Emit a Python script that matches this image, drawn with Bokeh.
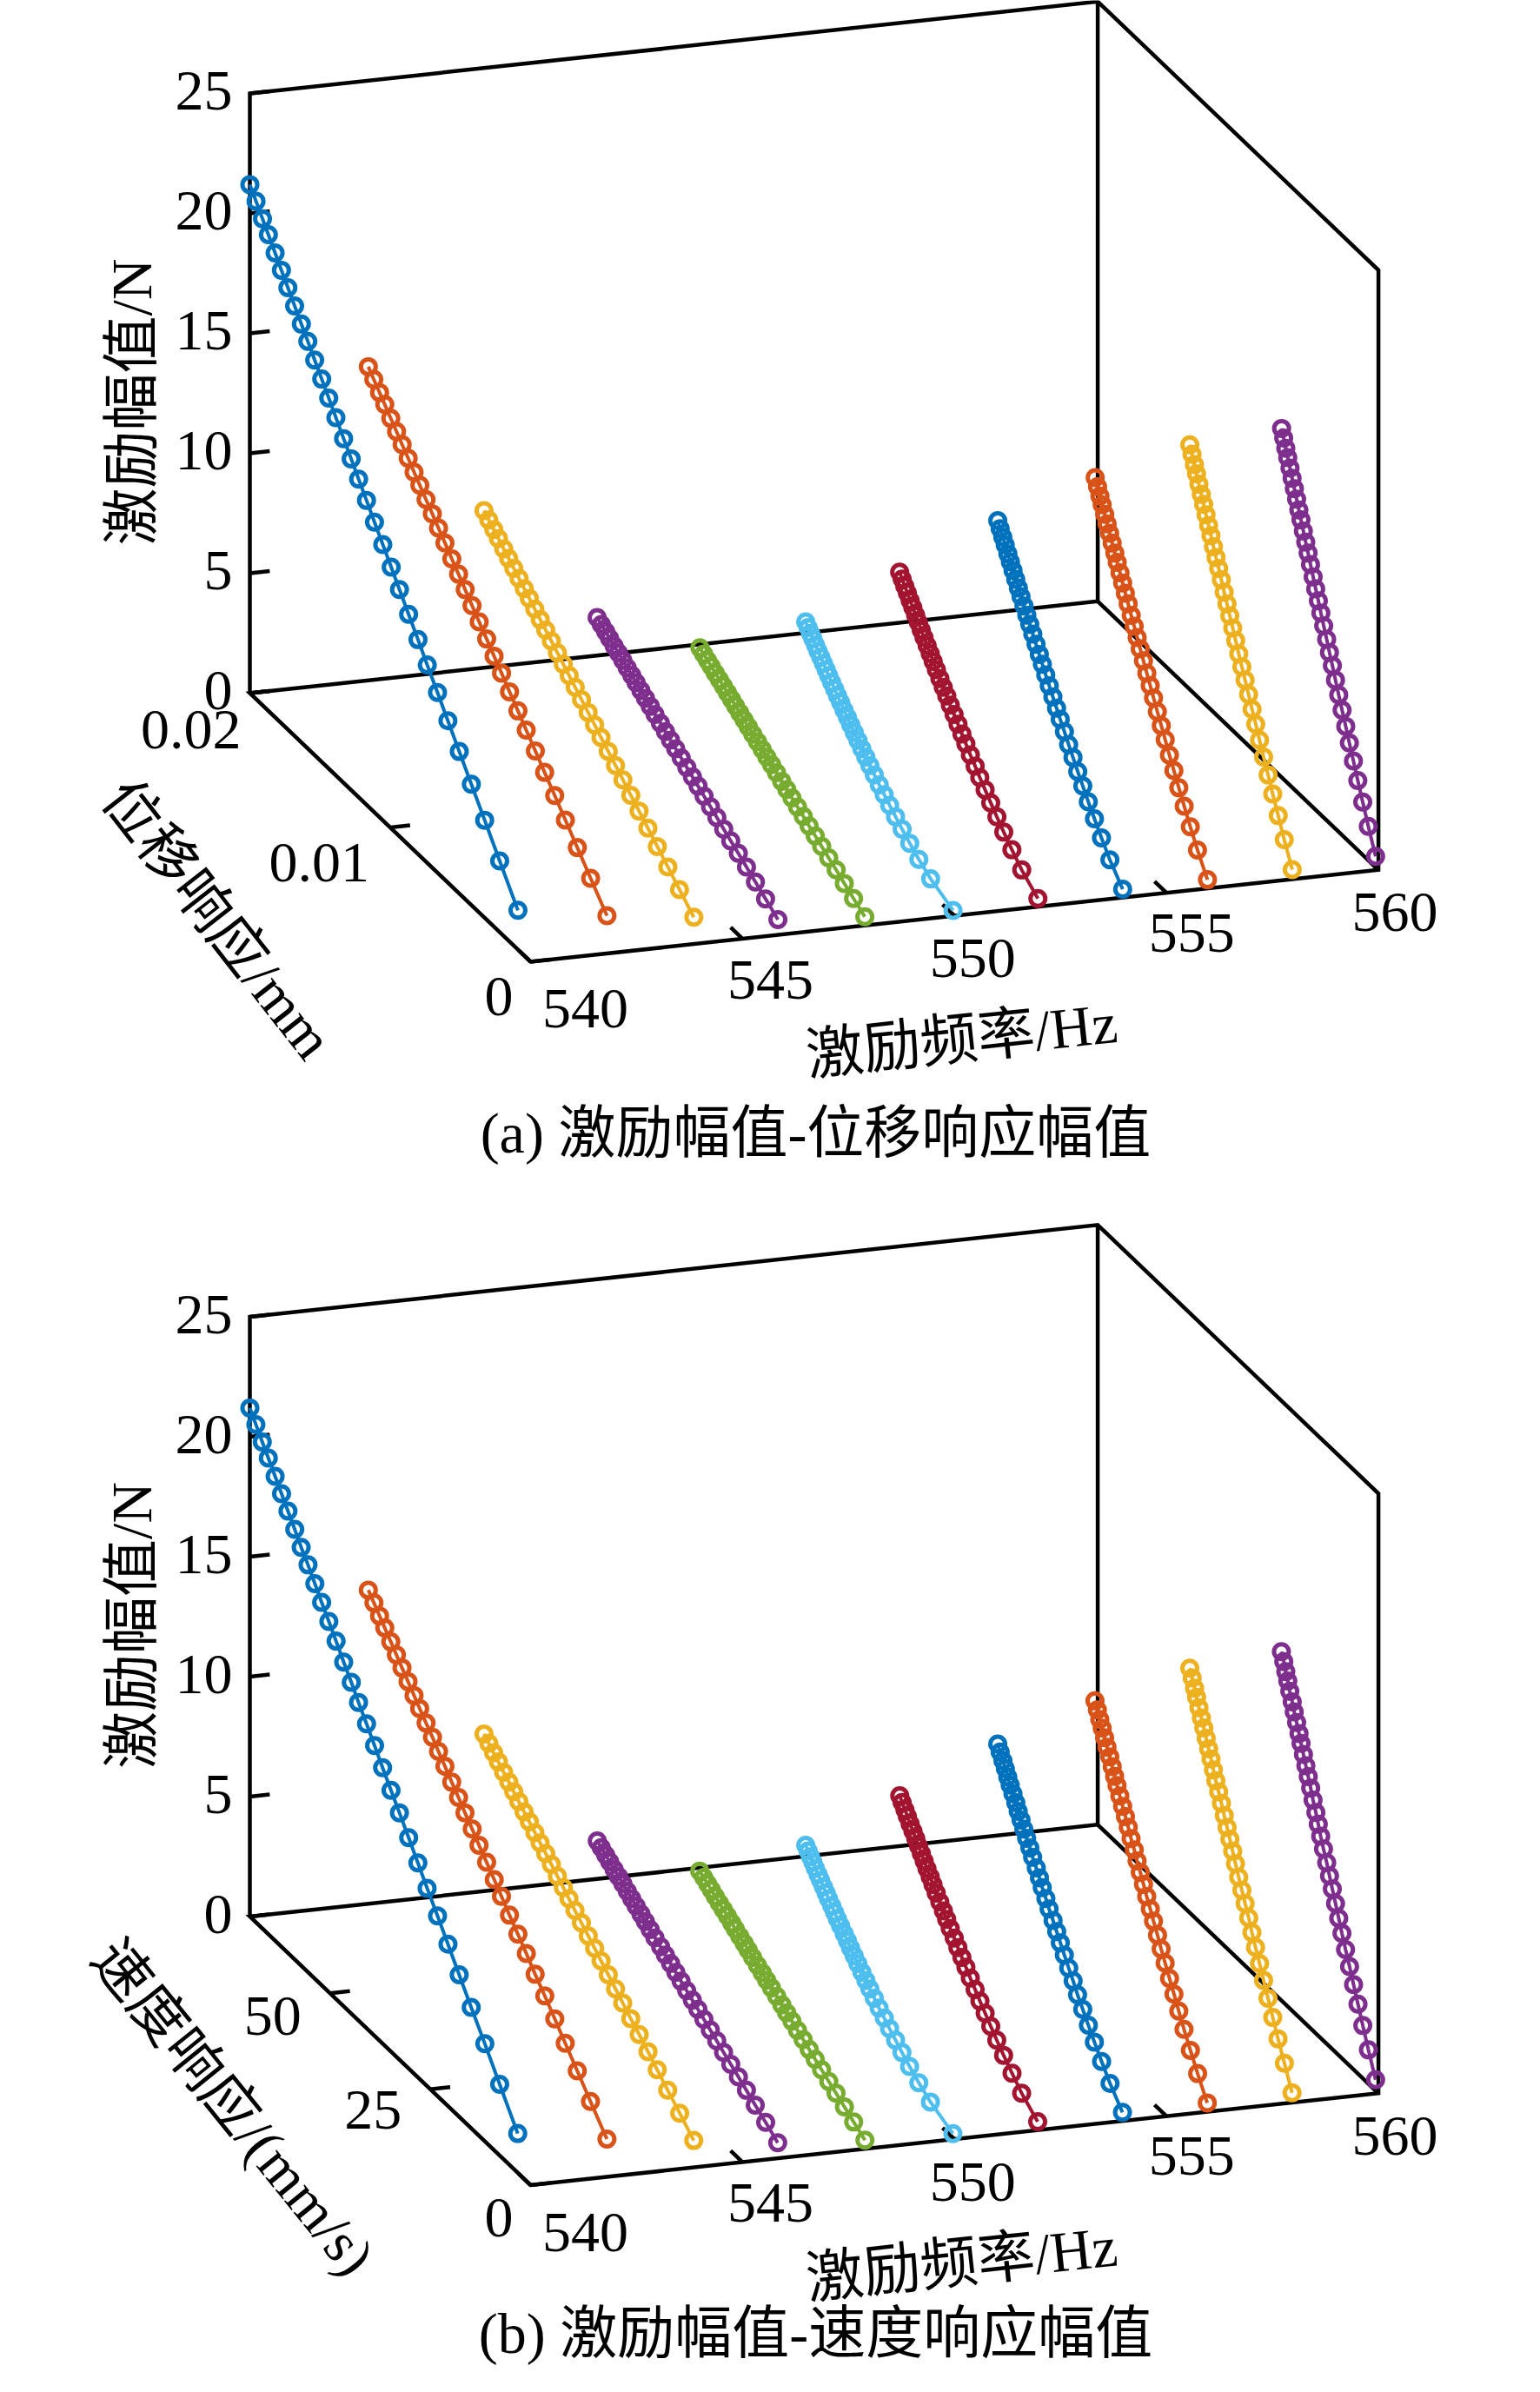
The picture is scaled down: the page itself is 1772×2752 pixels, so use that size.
import numpy as np
from bokeh.plotting import figure
from bokeh.models import Range1d
from bokeh.core.properties import value
from bokeh.embed import file_html
from bokeh.resources import INLINE

# excitation frequencies (Hz), one curve each
freqs = [540, 542, 544, 546, 548, 550, 552, 554, 556, 558, 560]

# force amplitude (N), displacement amplitude (mm), velocity amplitude (mm/s)
F540 = [21.20, 20.75, 20.28, 19.85, 19.36, 18.89, 18.42, 17.93, 17.44, 16.98, 16.47, 15.96, 15.45, 14.92, 14.35, 13.81,
        13.26, 12.69, 12.10, 11.50, 10.89, 10.29, 9.62, 8.94, 8.25, 7.51, 6.75, 5.92, 5.04, 4.07, 2.97, 1.64]
D540 = [0.02000, 0.01956, 0.01910, 0.01868, 0.01820, 0.01775, 0.01729, 0.01681, 0.01633, 0.01587, 0.01538, 0.01488,
        0.01438, 0.01387, 0.01332, 0.01278, 0.01225, 0.01169, 0.01112, 0.01053, 0.00993, 0.00934, 0.00869, 0.00802,
        0.00736, 0.00663, 0.00589, 0.00508, 0.00422, 0.00327, 0.00220, 0.00090]
V540 = [70.0, 68.5, 66.9, 65.4, 63.7, 62.1, 60.5, 58.8, 57.2, 55.5, 53.8, 52.1, 50.3, 48.5, 46.6, 44.7,
        42.9, 40.9, 38.9, 36.9, 34.8, 32.7, 30.4, 28.1, 25.8, 23.2, 20.6, 17.8, 14.8, 11.4, 7.7, 3.2]

F542 = [14.57, 14.26, 13.94, 13.65, 13.31, 12.99, 12.67, 12.34, 12.00, 11.68, 11.33, 10.99, 10.64, 10.28, 9.89, 9.52,
        9.14, 8.75, 8.35, 7.94, 7.52, 7.11, 6.65, 6.19, 5.72, 5.21, 4.69, 4.13, 3.53, 2.86, 2.11, 1.20]
D542 = [0.01760, 0.01721, 0.01680, 0.01643, 0.01600, 0.01559, 0.01519, 0.01476, 0.01434, 0.01393, 0.01349, 0.01304,
        0.01260, 0.01214, 0.01165, 0.01117, 0.01070, 0.01021, 0.00970, 0.00917, 0.00864, 0.00811, 0.00754, 0.00694,
        0.00635, 0.00570, 0.00504, 0.00432, 0.00356, 0.00271, 0.00176, 0.00060]
V542 = [61.6, 60.2, 58.8, 57.5, 56.0, 54.6, 53.2, 51.7, 50.2, 48.8, 47.2, 45.6, 44.1, 42.5, 40.8, 39.1,
        37.5, 35.7, 34.0, 32.1, 30.2, 28.4, 26.4, 24.3, 22.2, 20.0, 17.6, 15.1, 12.5, 9.5, 6.2, 2.1]

F544 = [9.42, 9.22, 9.02, 8.83, 8.61, 8.41, 8.20, 7.99, 7.77, 7.57, 7.34, 7.12, 6.90, 6.67, 6.42, 6.18,
        5.94, 5.69, 5.43, 5.16, 4.90, 4.63, 4.34, 4.04, 3.74, 3.41, 3.08, 2.72, 2.33, 1.90, 1.42, 0.84]
D544 = [0.01540, 0.01506, 0.01470, 0.01437, 0.01399, 0.01364, 0.01328, 0.01290, 0.01253, 0.01217, 0.01178, 0.01139,
        0.01100, 0.01060, 0.01017, 0.00975, 0.00933, 0.00890, 0.00845, 0.00798, 0.00752, 0.00706, 0.00655, 0.00603,
        0.00550, 0.00494, 0.00435, 0.00372, 0.00305, 0.00230, 0.00147, 0.00045]
V544 = [53.9, 52.7, 51.5, 50.3, 49.0, 47.7, 46.5, 45.2, 43.9, 42.6, 41.2, 39.9, 38.5, 37.1, 35.6, 34.1,
        32.7, 31.2, 29.6, 27.9, 26.3, 24.7, 22.9, 21.1, 19.3, 17.3, 15.2, 13.0, 10.7, 8.1, 5.1, 1.6]

F546 = [5.71, 5.59, 5.46, 5.34, 5.20, 5.08, 4.95, 4.81, 4.68, 4.55, 4.41, 4.27, 4.13, 3.98, 3.83, 3.68,
        3.53, 3.37, 3.21, 3.04, 2.87, 2.71, 2.53, 2.34, 2.15, 1.94, 1.73, 1.51, 1.27, 1.00, 0.70, 0.33]
D546 = [0.01338, 0.01308, 0.01277, 0.01249, 0.01217, 0.01186, 0.01155, 0.01123, 0.01091, 0.01060, 0.01026, 0.00993,
        0.00959, 0.00925, 0.00887, 0.00851, 0.00815, 0.00778, 0.00739, 0.00699, 0.00659, 0.00619, 0.00576, 0.00530,
        0.00485, 0.00436, 0.00386, 0.00332, 0.00274, 0.00210, 0.00138, 0.00050]
V546 = [46.8, 45.8, 44.7, 43.7, 42.6, 41.5, 40.4, 39.3, 38.2, 37.1, 35.9, 34.8, 33.6, 32.4, 31.0, 29.8,
        28.5, 27.2, 25.9, 24.5, 23.1, 21.7, 20.2, 18.6, 17.0, 15.3, 13.5, 11.6, 9.6, 7.4, 4.8, 1.8]

F548 = [4.78, 4.67, 4.56, 4.46, 4.34, 4.23, 4.12, 4.01, 3.89, 3.78, 3.66, 3.54, 3.42, 3.29, 3.16, 3.03,
        2.90, 2.77, 2.63, 2.48, 2.34, 2.20, 2.04, 1.88, 1.71, 1.54, 1.36, 1.16, 0.96, 0.72, 0.46, 0.15]
D548 = [0.01210, 0.01183, 0.01155, 0.01129, 0.01100, 0.01071, 0.01043, 0.01014, 0.00984, 0.00956, 0.00926, 0.00895,
        0.00865, 0.00833, 0.00799, 0.00766, 0.00733, 0.00699, 0.00664, 0.00627, 0.00591, 0.00554, 0.00514, 0.00473,
        0.00432, 0.00388, 0.00342, 0.00292, 0.00239, 0.00181, 0.00115, 0.00035]
V548 = [42.4, 41.4, 40.4, 39.5, 38.5, 37.5, 36.5, 35.5, 34.4, 33.5, 32.4, 31.3, 30.3, 29.2, 28.0, 26.8,
        25.7, 24.5, 23.2, 21.9, 20.7, 19.4, 18.0, 16.6, 15.1, 13.6, 12.0, 10.2, 8.4, 6.3, 4.0, 1.2]

F550 = [6.32, 6.18, 6.03, 5.90, 5.74, 5.59, 5.45, 5.29, 5.14, 4.99, 4.83, 4.67, 4.51, 4.35, 4.17, 4.00,
        3.82, 3.64, 3.46, 3.27, 3.08, 2.89, 2.68, 2.46, 2.25, 2.02, 1.78, 1.52, 1.24, 0.93, 0.59, 0.17]
D550 = [0.01060, 0.01043, 0.01025, 0.01009, 0.00990, 0.00972, 0.00953, 0.00934, 0.00914, 0.00896, 0.00875, 0.00854,
        0.00833, 0.00811, 0.00787, 0.00763, 0.00739, 0.00714, 0.00688, 0.00660, 0.00632, 0.00603, 0.00571, 0.00536,
        0.00501, 0.00462, 0.00420, 0.00373, 0.00319, 0.00254, 0.00170, 0.00010]
V550 = [37.1, 36.5, 35.9, 35.3, 34.7, 34.0, 33.4, 32.7, 32.0, 31.4, 30.6, 29.9, 29.2, 28.4, 27.5, 26.7,
        25.9, 25.0, 24.1, 23.1, 22.1, 21.1, 20.0, 18.8, 17.5, 16.2, 14.7, 13.1, 11.2, 8.9, 6.0, 0.4]

F552 = [8.37, 8.18, 7.99, 7.81, 7.61, 7.42, 7.22, 7.02, 6.82, 6.62, 6.41, 6.20, 5.99, 5.77, 5.54, 5.31,
        5.09, 4.85, 4.61, 4.36, 4.11, 3.86, 3.58, 3.30, 3.01, 2.71, 2.39, 2.05, 1.69, 1.28, 0.83, 0.28]
D552 = [0.00995, 0.00977, 0.00958, 0.00940, 0.00920, 0.00901, 0.00881, 0.00861, 0.00841, 0.00821, 0.00799, 0.00777,
        0.00756, 0.00733, 0.00708, 0.00684, 0.00659, 0.00634, 0.00607, 0.00579, 0.00551, 0.00523, 0.00491, 0.00457,
        0.00424, 0.00386, 0.00346, 0.00302, 0.00253, 0.00195, 0.00125, 0.00010]
V552 = [34.8, 34.2, 33.5, 32.9, 32.2, 31.5, 30.8, 30.1, 29.4, 28.7, 28.0, 27.2, 26.5, 25.7, 24.8, 23.9,
        23.1, 22.2, 21.2, 20.3, 19.3, 18.3, 17.2, 16.0, 14.8, 13.5, 12.1, 10.6, 8.9, 6.8, 4.4, 0.4]

F554 = [10.67, 10.43, 10.18, 9.95, 9.69, 9.45, 9.20, 8.94, 8.68, 8.43, 8.16, 7.89, 7.62, 7.34, 7.04, 6.75,
        6.46, 6.15, 5.84, 5.52, 5.20, 4.88, 4.53, 4.16, 3.80, 3.40, 3.00, 2.56, 2.10, 1.58, 1.00, 0.29]
D554 = [0.00900, 0.00883, 0.00864, 0.00847, 0.00828, 0.00810, 0.00791, 0.00772, 0.00753, 0.00734, 0.00713, 0.00693,
        0.00672, 0.00650, 0.00627, 0.00604, 0.00582, 0.00558, 0.00533, 0.00507, 0.00481, 0.00455, 0.00425, 0.00395,
        0.00364, 0.00330, 0.00294, 0.00255, 0.00211, 0.00161, 0.00101, 0.00010]
V554 = [31.5, 30.9, 30.2, 29.6, 29.0, 28.4, 27.7, 27.0, 26.4, 25.7, 25.0, 24.3, 23.5, 22.8, 21.9, 21.1,
        20.4, 19.5, 18.7, 17.7, 16.8, 15.9, 14.9, 13.8, 12.7, 11.6, 10.3, 8.9, 7.4, 5.6, 3.5, 0.4]

F556 = [12.58, 12.30, 12.00, 11.73, 11.43, 11.13, 10.84, 10.53, 10.22, 9.93, 9.61, 9.29, 8.97, 8.64, 8.28, 7.94,
        7.59, 7.24, 6.87, 6.49, 6.11, 5.73, 5.31, 4.88, 4.45, 3.98, 3.51, 2.99, 2.44, 1.82, 1.14, 0.30]
D556 = [0.00810, 0.00793, 0.00776, 0.00760, 0.00742, 0.00725, 0.00707, 0.00689, 0.00670, 0.00653, 0.00633, 0.00614,
        0.00595, 0.00575, 0.00553, 0.00532, 0.00511, 0.00489, 0.00466, 0.00442, 0.00418, 0.00394, 0.00367, 0.00339,
        0.00311, 0.00281, 0.00249, 0.00214, 0.00176, 0.00132, 0.00081, 0.00010]
V556 = [28.4, 27.8, 27.2, 26.6, 26.0, 25.4, 24.7, 24.1, 23.5, 22.9, 22.2, 21.5, 20.8, 20.1, 19.4, 18.6,
        17.9, 17.1, 16.3, 15.5, 14.6, 13.8, 12.8, 11.9, 10.9, 9.8, 8.7, 7.5, 6.2, 4.6, 2.8, 0.4]

F558 = [13.96, 13.65, 13.32, 13.02, 12.68, 12.35, 12.03, 11.69, 11.35, 11.02, 10.66, 10.31, 9.96, 9.59, 9.19, 8.81,
        8.43, 8.04, 7.63, 7.20, 6.78, 6.36, 5.90, 5.42, 4.94, 4.43, 3.89, 3.32, 2.71, 2.03, 1.27, 0.34]
D558 = [0.00740, 0.00724, 0.00707, 0.00692, 0.00675, 0.00658, 0.00641, 0.00624, 0.00606, 0.00589, 0.00571, 0.00553,
        0.00534, 0.00515, 0.00495, 0.00475, 0.00455, 0.00434, 0.00413, 0.00391, 0.00369, 0.00346, 0.00321, 0.00296,
        0.00270, 0.00243, 0.00214, 0.00182, 0.00149, 0.00110, 0.00067, 0.00010]
V558 = [25.9, 25.3, 24.7, 24.2, 23.6, 23.0, 22.4, 21.8, 21.2, 20.6, 20.0, 19.4, 18.7, 18.0, 17.3, 16.6,
        15.9, 15.2, 14.5, 13.7, 12.9, 12.1, 11.2, 10.4, 9.5, 8.5, 7.5, 6.4, 5.2, 3.9, 2.3, 0.4]

F560 = [14.54, 14.22, 13.88, 13.57, 13.22, 12.88, 12.54, 12.19, 11.83, 11.50, 11.13, 10.76, 10.40, 10.02, 9.61, 9.21,
        8.82, 8.41, 7.99, 7.55, 7.11, 6.68, 6.20, 5.71, 5.21, 4.68, 4.13, 3.54, 2.90, 2.20, 1.41, 0.45]
D560 = [0.00690, 0.00675, 0.00660, 0.00646, 0.00630, 0.00615, 0.00599, 0.00583, 0.00567, 0.00552, 0.00535, 0.00518,
        0.00501, 0.00484, 0.00465, 0.00447, 0.00428, 0.00410, 0.00390, 0.00369, 0.00349, 0.00328, 0.00306, 0.00283,
        0.00259, 0.00233, 0.00207, 0.00178, 0.00147, 0.00112, 0.00072, 0.00020]
V560 = [24.2, 23.6, 23.1, 22.6, 22.1, 21.5, 21.0, 20.4, 19.8, 19.3, 18.7, 18.1, 17.5, 16.9, 16.3, 15.6,
        15.0, 14.4, 13.7, 12.9, 12.2, 11.5, 10.7, 9.9, 9.1, 8.2, 7.2, 6.2, 5.1, 3.9, 2.5, 0.7]

force = [F540, F542, F544, F546, F548, F550, F552, F554, F556, F558, F560]
disp = [D540, D542, D544, D546, D548, D550, D552, D554, D556, D558, D560]
vel = [V540, V542, V544, V546, V548, V550, V552, V554, V556, V558, V560]

colors = ["#0072BD", "#D95319", "#EDB120", "#7E2F8E", "#77AC30", "#4DBEEE",
          "#A2142F", "#0072BD", "#D95319", "#EDB120", "#7E2F8E"]

freq_ticks = [540, 545, 550, 555, 560]
force_ticks = [0, 5, 10, 15, 20, 25]
disp_ticks = [0, 0.01, 0.02]
disp_labels = ["0", "0.01", "0.02"]
vel_ticks = [0, 25, 50]
vel_labels = ["0", "25", "50"]

# 3-D box projected onto the page, page pixels (y down)
ORIGIN = (610.0, 1106.0)   # f=540, response=0, force=0 of panel (a)
E_F = (975.6, -105.7)      # 540 -> 560 Hz
E_R = (-323.0, -309.0)     # response 0 -> max
E_Z = (0.0, -690.0)        # force 0 -> 25 N
PANEL_DY = 1407.5
F_MIN, F_MAX, Z_MAX = 540.0, 560.0, 25.0

NUM = value("Liberation Serif")
MIX = value("'Liberation Serif', 'Noto Sans CJK SC'")
FS = value("66px")
LW = 4.5

W, H = 1756, 2736
p = figure(width=W, height=H, x_range=Range1d(0, W), y_range=Range1d(-H, 0),
           output_backend="svg", toolbar_location=None,
           x_axis_location=None, y_axis_location=None, min_border=0)
p.grid.visible = False
p.outline_line_color = None
p.background_fill_color = "white"


def proj(f, r, z, rmax, dy):
    a = (np.asarray(f, dtype=float) - F_MIN) / (F_MAX - F_MIN)
    b = np.asarray(r, dtype=float) / rmax
    c = np.asarray(z, dtype=float) / Z_MAX
    x = ORIGIN[0] + a * E_F[0] + b * E_R[0] + c * E_Z[0]
    y = ORIGIN[1] + dy + a * E_F[1] + b * E_R[1] + c * E_Z[1]
    return x, -y


def unit(v):
    n = np.hypot(v[0], v[1])
    return v[0] / n, -v[1] / n


def label(x, y, txt, font, align="center", angle=0.0):
    p.text(x, y, text=txt, angle=angle, text_font=font, text_font_size=FS,
           text_align=align, text_baseline="middle", text_color="black")


def draw_panel(resp, rmax, r_ticks, r_labels, r_nudge, r_title, caption, cap_y, dy):
    # box edges (back walls + floor)
    path = [(540, 1, 0), (540, 1, 25), (560, 1, 25), (560, 0, 25), (560, 0, 0),
            (540, 0, 0), (540, 1, 0), (560, 1, 0), (560, 1, 25)]
    f, r, z = zip(*path)
    bx, by = proj(f, r, z, 1, dy)
    p.line(bx, by, line_color="black", line_width=LW, line_join="miter")
    ex, ey = proj([560, 560], [0, 1], [0, 0], 1, dy)
    p.line(ex, ey, line_color="black", line_width=LW)

    # ticks
    ux, uy = unit(E_F)
    x0, y0 = proj(540, rmax, force_ticks, rmax, dy)
    p.segment(x0, y0, x0 + 23 * ux, y0 + 23 * uy, line_color="black", line_width=LW)
    x0, y0 = proj(540, r_ticks, 0, rmax, dy)
    p.segment(x0, y0, x0 + 23 * ux, y0 + 23 * uy, line_color="black", line_width=LW)
    vx, vy = unit(E_R)
    x0, y0 = proj(freq_ticks, 0, 0, rmax, dy)
    p.segment(x0, y0, x0 + 19 * vx, y0 + 19 * vy, line_color="black", line_width=LW)

    # tick labels
    lx, ly = proj(540, rmax, force_ticks, rmax, dy)
    label(lx - 20, ly + 3, [str(t) for t in force_ticks], NUM, "right")
    lx, ly = proj(540, r_ticks, 0, rmax, dy)
    nx, ny = zip(*r_nudge)
    label(lx + np.array(nx), ly - np.array(ny), r_labels, NUM, "right")
    lx, ly = proj(freq_ticks, 0, 0, rmax, dy)
    nx = np.array([63, 32, 21, 29, 19])
    ny = np.array([54, 47, 49, 46, 49])
    label(lx + nx, ly - ny, [str(t) for t in freq_ticks], NUM)

    # axis titles and caption
    label([151], [-(462 + dy)], ["激励幅值/N"], MIX, angle=np.pi / 2)
    tx, ty = r_title[1]
    label([tx], [-(ty + dy)], [r_title[0]], MIX, angle=-np.radians(r_title[2]))
    label([1106], [-(1195 + dy)], ["激励频率/Hz"], MIX, angle=np.arctan2(-E_F[1], E_F[0]))
    label([938], [-(cap_y + dy)], [caption], MIX)

    # response curves
    for fq, fr, rv, col in zip(freqs, force, resp, colors):
        x, y = proj(fq, rv, fr, rmax, dy)
        p.line(x, y, line_color=col, line_width=4)
        p.scatter(x, y, marker="circle", size=17, line_color=col, line_width=5, fill_color=None)


draw_panel(disp, 0.02, disp_ticks, disp_labels, [(-20, 40), (-24, 40), (-10, 42)],
           ("位移响应/mm", (250, 1057), 52), "(a) 激励幅值-位移响应幅值", 1303, 0.0)
draw_panel(vel, 70.0, vel_ticks, vel_labels, [(-20, 37), (-33, 24), (-33, 26)],
           ("速度响应/(mm/s)", (268, 1016.5), 51), "(b) 激励幅值-速度响应幅值", 1276, PANEL_DY)

open("out.html", "w").write(file_html(p, INLINE))
